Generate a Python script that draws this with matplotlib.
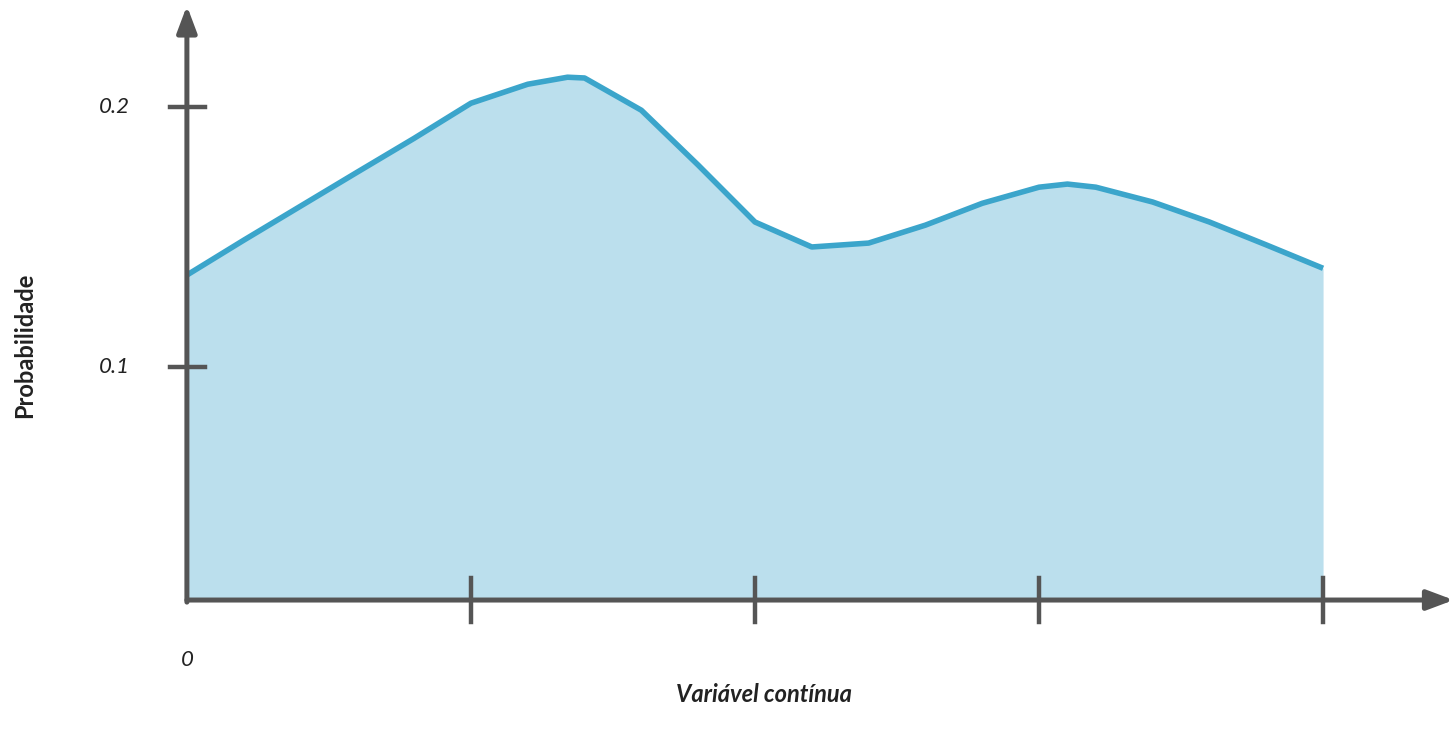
import numpy as np
import matplotlib.pyplot as plt

# curve values
x_vals = [0.0, 0.2, 0.4, 0.6, 0.8, 1.0, 1.2, 1.34, 1.4, 1.6, 1.8, 2.0, 2.2, 2.4,
          2.6, 2.8, 3.0, 3.1, 3.2, 3.4, 3.6, 3.8, 4.0]
y_vals = [0.1354, 0.1488, 0.1619, 0.175, 0.188, 0.2015, 0.2088, 0.2115, 0.2112,
          0.1988, 0.1777, 0.1558, 0.1462, 0.1477, 0.1546, 0.163, 0.1692, 0.1704,
          0.1692, 0.1635, 0.1558, 0.147, 0.138]
x_ticks = [1, 2, 3, 4]
y_ticks = [0.1, 0.2]
y_tick_labels = ['0.1', '0.2']

plt.rcParams['font.family'] = ['Lato', 'DejaVu Sans']
axis_col = '#555555'
base = 0.0104

fig = plt.figure(figsize=(14.56, 7.36), dpi=100)
ax = fig.add_axes([0, 0, 1, 1])
ax.set_xlim(-0.658, 4.468)
ax.set_ylim(-0.0419, 0.2412)
ax.axis('off')

ax.fill_between(x_vals, base, y_vals, color='#bbdfed', lw=0)
ax.plot(x_vals, y_vals, color='#3ba5cb', lw=4, solid_capstyle='butt')

# axes with arrows
ax.annotate('', xy=(4.46, base), xytext=(0, base),
            arrowprops=dict(arrowstyle='-|>,head_length=1.6,head_width=0.6',
                            color=axis_col, lw=3.6, shrinkA=0, shrinkB=0))
ax.annotate('', xy=(0, 0.239), xytext=(0, base - 0.0008),
            arrowprops=dict(arrowstyle='-|>,head_length=1.6,head_width=0.6',
                            color=axis_col, lw=3.6, shrinkA=0, shrinkB=0))

for xt in x_ticks:
    ax.plot([xt, xt], [0.0019, 0.0188], color=axis_col, lw=3.2)
for yt, lab in zip(y_ticks, y_tick_labels):
    ax.plot([-0.06, 0.063], [yt, yt], color=axis_col, lw=3.2)
    ax.text(-0.254, yt, lab, style='italic', fontsize=16, color='#222222',
            ha='center', va='center')

ax.text(0, -0.0127, '0', style='italic', fontsize=16, color='#222222',
        ha='center', va='center')
ax.text(2.03, -0.026, 'Variável contínua', style='italic', fontweight='bold',
        fontsize=17, color='#222222', ha='center', va='center')
ax.text(-0.570, 0.1085, 'Probabilidade', rotation=90, fontweight='bold',
        fontsize=17, color='#222222', ha='center', va='center')

fig.savefig('out.png', dpi=100)
